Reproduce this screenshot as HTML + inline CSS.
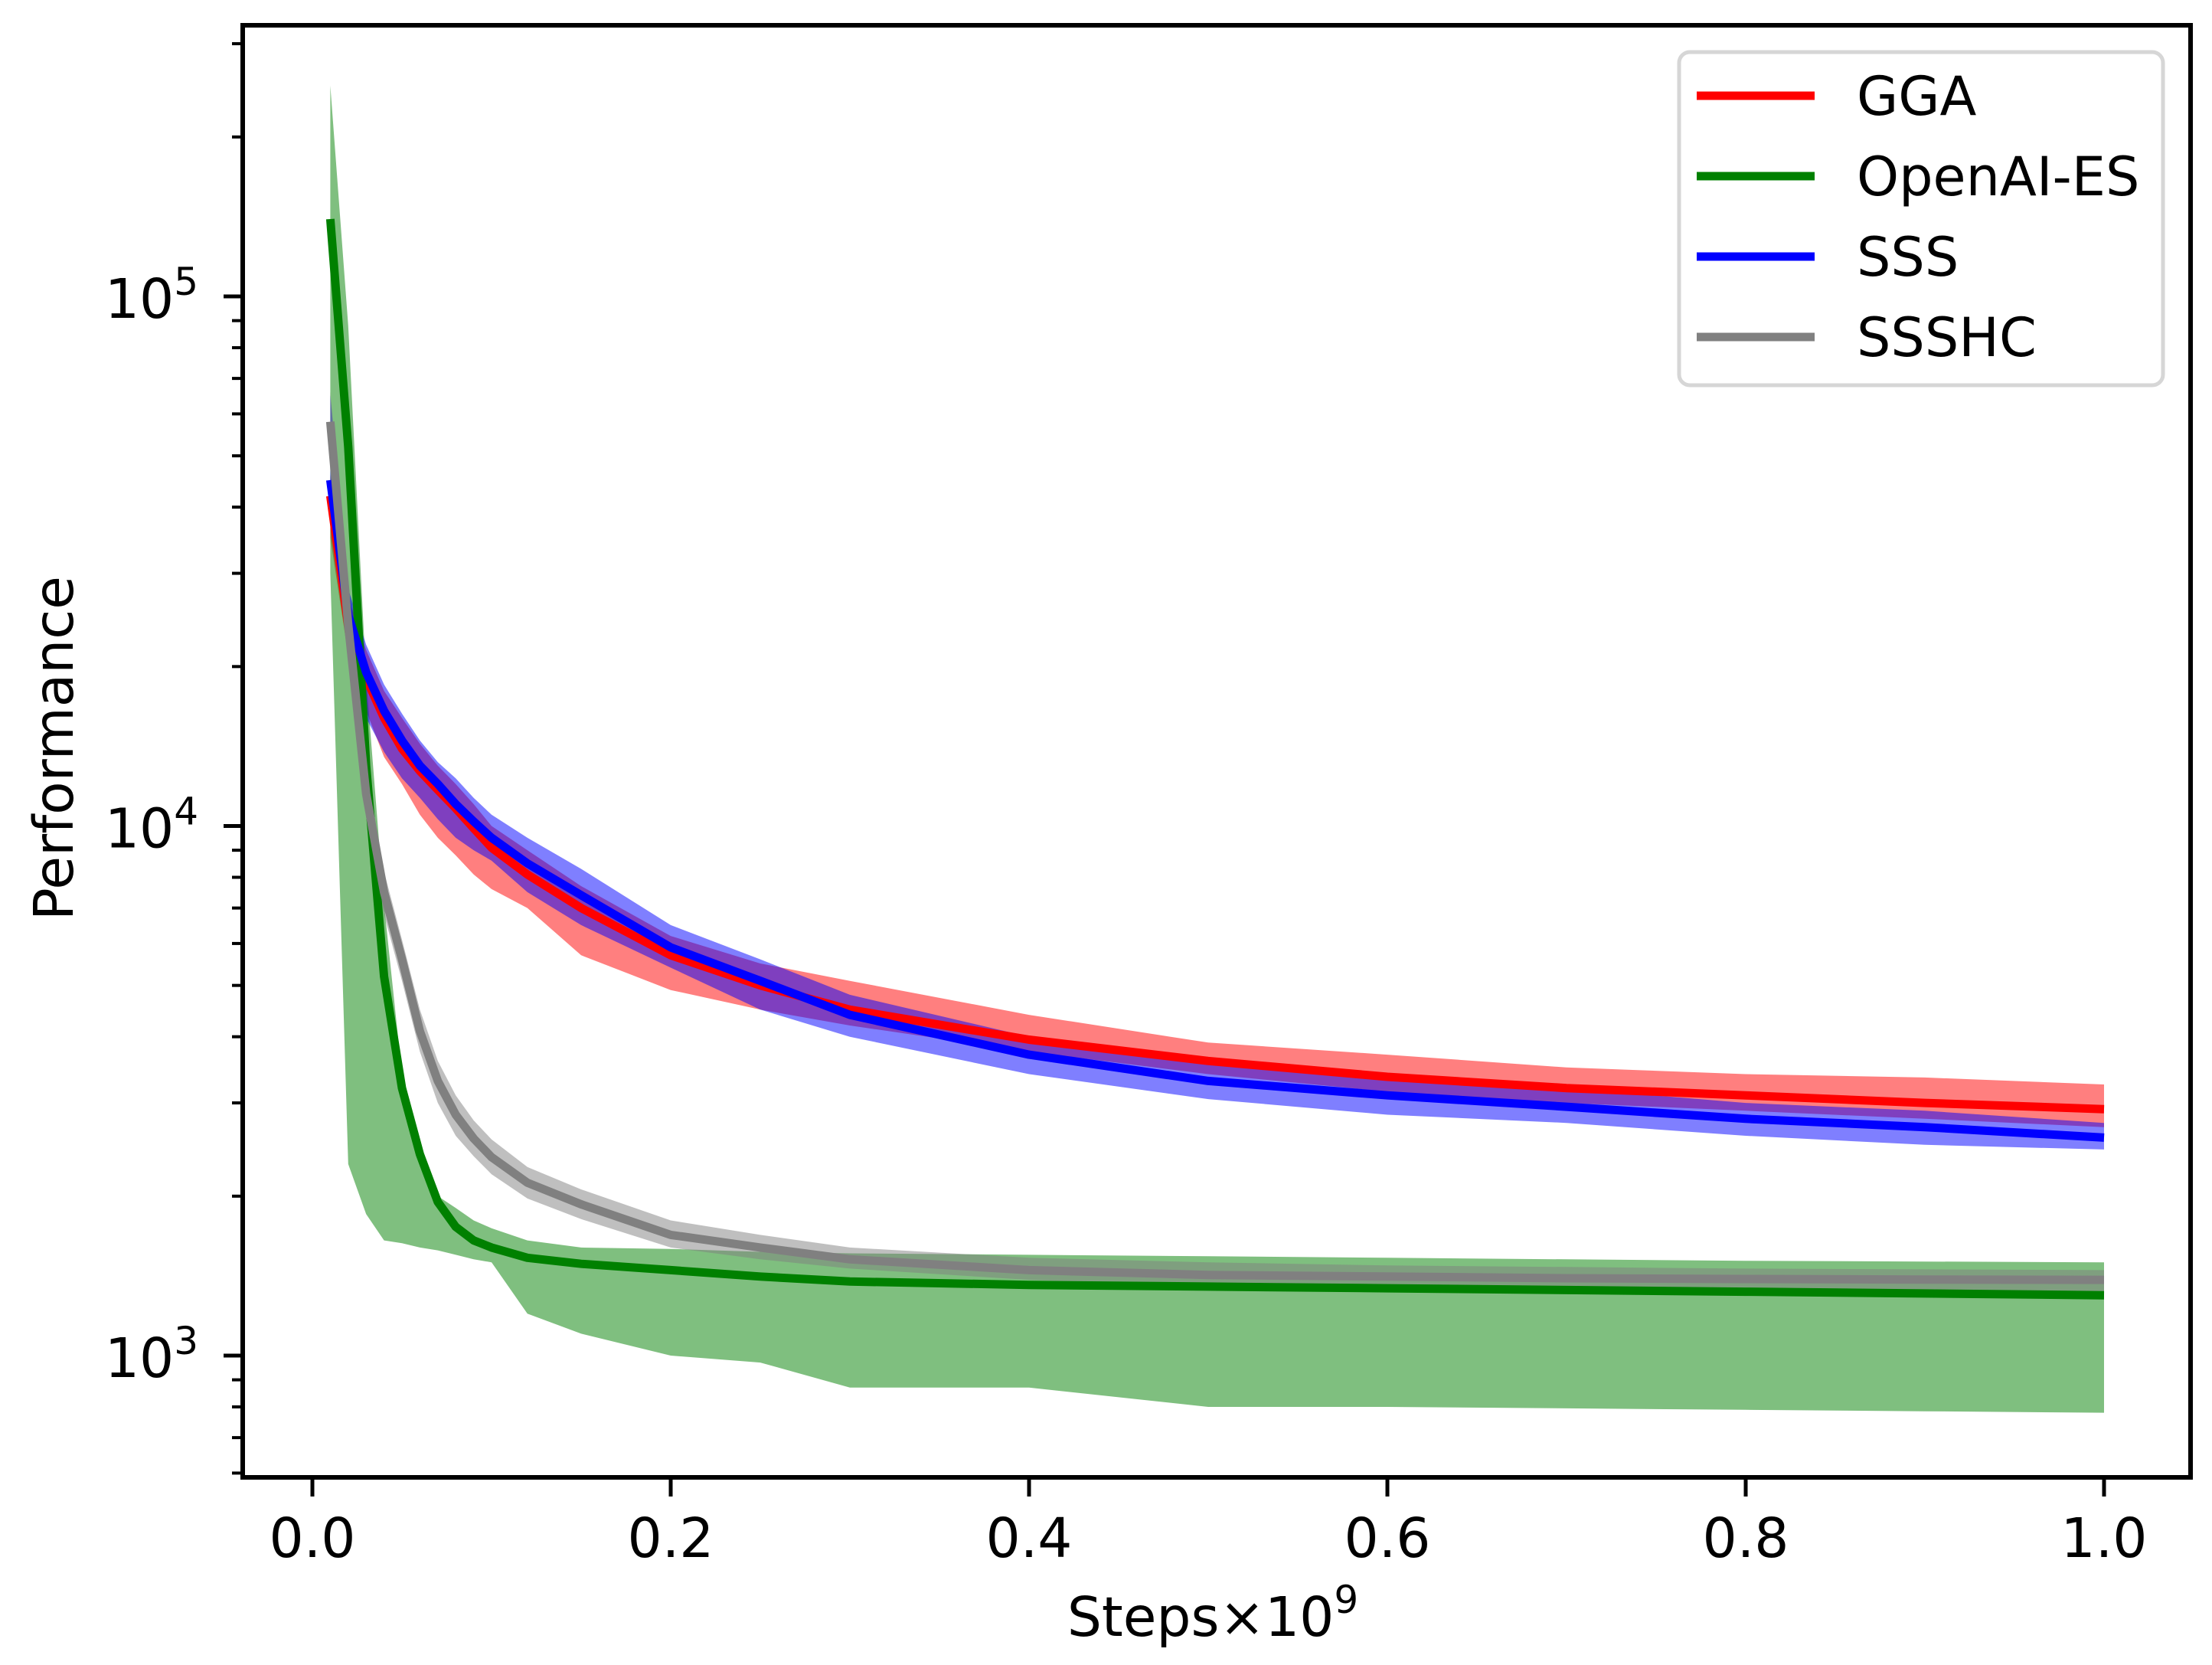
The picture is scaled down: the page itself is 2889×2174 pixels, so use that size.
<!DOCTYPE html>
<html><head><meta charset="utf-8"><style>
html,body{margin:0;padding:0;background:#fff;}
svg{display:block;font-family:"DejaVu Sans","Liberation Sans",sans-serif;}
</style></head><body>
<svg id="chart" width="2889" height="2174" viewBox="0 0 2889 2174" xmlns="http://www.w3.org/2000/svg">
<rect width="2889" height="2174" fill="#fff"/>
<g id="fills"></g>
<g id="lines"></g>
<g id="axes"></g>
<text x="95" y="977" font-size="71" text-anchor="middle" transform="rotate(-90 95 977)">Performance</text>
<text x="1584" y="2136" font-size="71" text-anchor="middle">Steps×10<tspan font-size="50" dy="-30">9</tspan></text>
<g>
<rect x="2193" y="68" width="632" height="435" rx="14" fill="#fff" fill-opacity="0.8" stroke="#d6d6d6" stroke-width="5"/>
<g><line x1="2216" y1="125" x2="2370" y2="125" stroke="#ff0000" stroke-width="11"/><text x="2425" y="150" font-size="70">GGA</text></g>
<g><line x1="2216" y1="230" x2="2370" y2="230" stroke="#008000" stroke-width="11"/><text x="2425" y="255" font-size="70">OpenAI-ES</text></g>
<g><line x1="2216" y1="335" x2="2370" y2="335" stroke="#0000ff" stroke-width="11"/><text x="2425" y="360" font-size="70">SSS</text></g>
<g><line x1="2216" y1="440" x2="2370" y2="440" stroke="#808080" stroke-width="11"/><text x="2425" y="465" font-size="70">SSSHC</text></g>
</g>
</svg>
<script>
const steps = [0.01,0.02,0.03,0.04,0.05,0.06,0.07,0.08,0.09,0.1,0.12,0.15,0.2,0.25,0.3,0.4,0.5,0.6,0.7,0.8,0.9,1.0];
const ggaMean = [42000,24000,19000,16000,14000,12700,11700,10800,9900,9100,8100,7000,5700,5000,4500,3950,3600,3360,3200,3100,3000,2920];
const ggaLow  = [35000,21000,16500,13500,12000,10500,9500,8800,8100,7600,7000,5700,4900,4500,4200,3750,3400,3150,3000,2900,2800,2700];
const ggaHigh = [46000,27000,21500,18000,16000,14300,13000,12000,11000,10000,9000,7700,6200,5500,5100,4400,3900,3700,3500,3400,3350,3250];
const sssMean = [45000,25000,19500,16500,14500,13000,12000,11000,10200,9500,8500,7400,5900,5100,4400,3700,3300,3100,2950,2800,2700,2580];
const sssLow  = [38000,21000,16000,13800,12300,11300,10300,9500,9000,8600,7500,6500,5400,4500,4000,3400,3050,2850,2750,2600,2500,2450];
const sssHigh = [65000,28000,22000,18500,16300,14500,13200,12300,11300,10500,9500,8300,6500,5600,4800,4000,3600,3350,3200,3000,2900,2750];
const esMean = [140000,52000,13000,5200,3200,2400,1950,1750,1650,1600,1530,1490,1450,1410,1380,1360,1350,1340,1330,1320,1310,1300];
const esLow  = [30000,2300,1850,1650,1630,1600,1580,1550,1520,1500,1200,1100,1000,970,870,870,800,800,795,790,785,780];
const esHigh = [250000,88000,19000,7100,3400,2400,2000,1900,1800,1740,1650,1600,1590,1570,1560,1550,1540,1530,1520,1510,1505,1500];
const hcMean = [58000,24000,11500,7500,5600,4100,3300,2850,2570,2370,2120,1930,1690,1600,1520,1450,1420,1410,1400,1395,1392,1390];
const hcLow  = [48000,21000,10500,6800,5100,3750,3000,2600,2380,2200,1980,1810,1600,1520,1460,1390,1350,1330,1310,1300,1290,1280];
const hcHigh = [66000,27000,12800,8200,6100,4500,3600,3100,2780,2560,2270,2060,1800,1690,1600,1530,1500,1480,1470,1460,1455,1450];
const xTicks = [0.0,0.2,0.4,0.6,0.8,1.0];
const xTickLabels = ["0.0","0.2","0.4","0.6","0.8","1.0"];
const yDecades = [3,4,5];

const NS="http://www.w3.org/2000/svg";
const L=317,R=2861,T=33,B=1929;
function X(v){return 408+v*2340;}
function Y(v){return 1770-(Math.log10(v)-3)*691.5;}
function mk(tag,attrs,parent){const e=document.createElementNS(NS,tag);for(const k in attrs)e.setAttribute(k,attrs[k]);parent.appendChild(e);return e;}
const fills=document.getElementById('fills'),lines=document.getElementById('lines'),axes=document.getElementById('axes');
function band(lo,hi,color,name){
  let d='M'+steps.map((s,i)=>X(s).toFixed(1)+','+Y(hi[i]).toFixed(1)).join('L');
  for(let i=steps.length-1;i>=0;i--)d+='L'+X(steps[i]).toFixed(1)+','+Y(lo[i]).toFixed(1);
  const p=mk('path',{d:d+'Z',fill:color,'fill-opacity':0.5},fills);
  
  
}
function line(m,color,name){
  const p=mk('path',{d:'M'+steps.map((s,i)=>X(s).toFixed(1)+','+Y(m[i]).toFixed(1)).join('L'),fill:'none',stroke:color,'stroke-width':11,'stroke-linejoin':'round'},lines);
  
  
}
band(ggaLow,ggaHigh,'#ff0000','gga-band');
band(esLow,esHigh,'#008000','openai-es-band');
band(sssLow,sssHigh,'#0000ff','sss-band');
band(hcLow,hcHigh,'#808080','ssshc-band');
line(ggaMean,'#ff0000','gga-line');
line(esMean,'#008000','openai-es-line');
line(sssMean,'#0000ff','sss-line');
line(hcMean,'#808080','ssshc-line');
const fr=mk('rect',{x:L,y:T,width:R-L,height:B-T,fill:'none',stroke:'#000','stroke-width':6},axes);


xTicks.forEach((v,i)=>{
  const t=mk('line',{x1:X(v),y1:B,x2:X(v),y2:B+25,stroke:'#000','stroke-width':5},axes);
  
  
  const tx=mk('text',{x:X(v),y:2033,'font-size':71,'text-anchor':'middle'},axes);
  tx.textContent=xTickLabels[i];
  
  
});
for(let d=2;d<=5;d++){
  for(let k=1;k<=9;k++){
    const v=k*Math.pow(10,d),y=Y(v);
    if(y<T||y>B)continue;
    const major=k===1;
    const t=mk('line',{x1:L,y1:y,x2:L-(major?25:14),y2:y,stroke:'#000','stroke-width':major?5:4},axes);
    
    
  }
}
yDecades.forEach(d=>{
  const y=Y(Math.pow(10,d));
  const tx=mk('text',{x:259,y:y+28,'font-size':71,'text-anchor':'end'},axes);
  tx.textContent='10';
  const s=document.createElementNS(NS,'tspan');
  s.setAttribute('font-size','50');s.setAttribute('dy','-30');s.textContent=String(d);
  tx.appendChild(s);
  
  
});
</script>
</body></html>
